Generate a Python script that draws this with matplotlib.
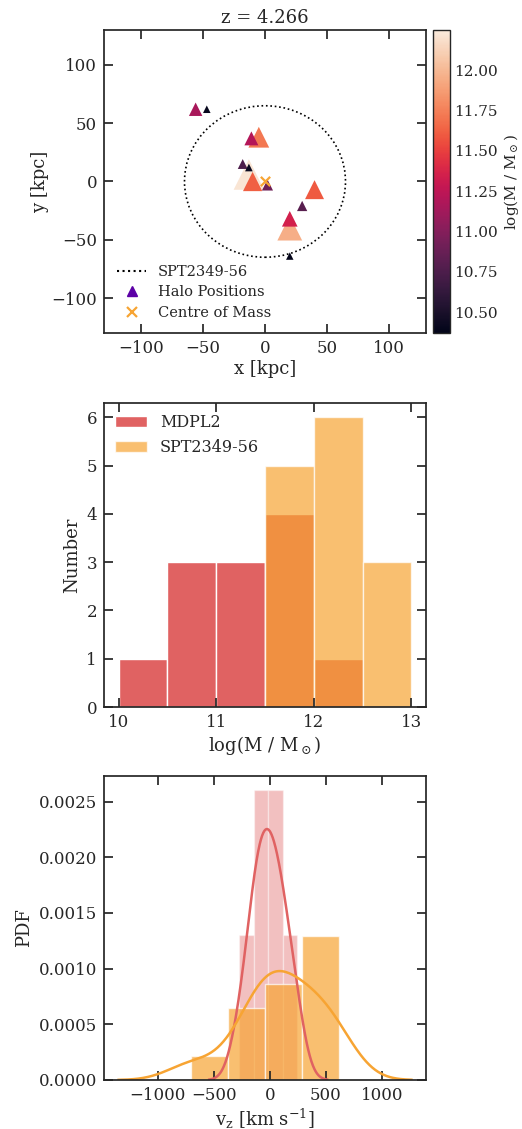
import numpy as np
import matplotlib
matplotlib.use("Agg")
import matplotlib.pyplot as plt
import seaborn as sns
from matplotlib.lines import Line2D
from matplotlib.patches import Circle

# ---------------- data ----------------
title = "z = 4.266"
halo_x = [-13, -5, 20, -10, 40, 20, -11, -56, 2, 30, -18, -13, -47, 20]
halo_y = [6, 38, -40, 0, -7, -32, 37, 62, -3, -21, 15, 12, 62, -64]
halo_logm = [12.22, 11.72, 11.95, 11.62, 11.6, 11.35, 11.2, 11.15, 10.9, 10.8, 10.75, 10.42, 10.40, 10.38]
com_x, com_y = [0.0], [0.0]
circle_radius = 65.0
cbar_min, cbar_max = 10.37, 12.25

mass_bin_edges = [10.0, 10.5, 11.0, 11.5, 12.0, 12.5, 13.0]
mdpl2_counts = [1, 3, 3, 4, 1, 0]
spt_counts = [0, 0, 0, 5, 6, 3]

vz_mdpl2 = [-270, -160, -135, -110, -60, -20, -10, 40, 80, 108, 170, 243]
vz_spt = [-706, -330, -150, -60, -40, -10, 40, 120, 292, 292, 300, 500, 560, 622]

red = "#e06262"
orange = "#f7a433"
legend_purple = "#5c01a6"

# ---------------- style ----------------
plt.rcParams.update({
    "font.family": ["DejaVu Serif"],
    "mathtext.fontset": "dejavuserif",
    "font.size": 12,
    "axes.edgecolor": "0.15",
    "axes.linewidth": 1.25,
    "text.color": "0.15",
    "axes.labelcolor": "0.15",
    "xtick.color": "0.15",
    "ytick.color": "0.15",
    "xtick.labelsize": 12,
    "ytick.labelsize": 12,
    "axes.labelsize": 13,
})

fig = plt.figure(figsize=(5.22, 11.29), dpi=100)
W, H = 522.0, 1129.0

def box(x0, y0, x1, y1):
    return [x0 / W, 1 - y1 / H, (x1 - x0) / W, (y1 - y0) / H]

def style(ax):
    ax.tick_params(which="major", direction="in", length=6.5, width=1.25,
                   top=True, right=True, bottom=True, left=True, pad=5)
    ax.minorticks_off()

# ---------------- top panel ----------------
ax1 = fig.add_axes(box(104, 30, 426, 333))
cax = fig.add_axes(box(433, 30, 450, 333))
sizes = [16.0 * (10 ** (m - 10.0)) ** (2.0 / 3.0) for m in halo_logm]
sc = ax1.scatter(halo_x, halo_y, c=halo_logm, s=sizes, marker="^", cmap="rocket",
                 vmin=cbar_min, vmax=cbar_max, linewidths=0, zorder=3)
circ = Circle((0, 0), circle_radius, fill=False, ls=":", lw=1.2, color="k", zorder=2)
ax1.add_patch(circ)
ax1.scatter(com_x, com_y, marker="x", color=orange, s=45, linewidths=1.6, zorder=4)
ax1.set_xlim(-130, 130)
ax1.set_ylim(-130, 130)
ax1.set_xticks([-100, -50, 0, 50, 100])
ax1.set_yticks([-100, -50, 0, 50, 100])
ax1.set_xlabel("x [kpc]", labelpad=2)
ax1.set_ylabel("y [kpc]", labelpad=2)
ax1.set_title(title, fontsize=13, pad=5)
style(ax1)
handles = [
    Line2D([], [], ls=":", color="k", lw=1.5),
    Line2D([], [], ls="", marker="^", color=legend_purple, markersize=7),
    Line2D([], [], ls="", marker="x", color=orange, markersize=7, mew=1.6),
]
ax1.legend(handles, ["SPT2349-56", "Halo Positions", "Centre of Mass"],
           loc="lower left", frameon=False, fontsize=10.5, handlelength=2.0,
           borderaxespad=0.5, labelspacing=0.45)
cb = fig.colorbar(sc, cax=cax)
cb.set_ticks([10.5, 10.75, 11.0, 11.25, 11.5, 11.75, 12.0])
cb.ax.tick_params(length=0, labelsize=11, pad=3)
cb.outline.set_edgecolor("0.15")
cb.outline.set_linewidth(1.0)
cb.set_label(r"log(M / M$_\odot$)", fontsize=11, labelpad=3)

# ---------------- middle panel ----------------
ax2 = fig.add_axes(box(104, 403, 426, 707))
edges = np.array(mass_bin_edges)
ax2.bar(edges[:-1], mdpl2_counts, width=np.diff(edges), align="edge",
        color=red, edgecolor="white", linewidth=1.0, label="MDPL2")
ax2.bar(edges[:-1], spt_counts, width=np.diff(edges), align="edge",
        color=orange, alpha=0.7, edgecolor="white", linewidth=1.0, label="SPT2349-56")
ax2.set_xticks([10, 11, 12, 13])
ax2.set_yticks([0, 1, 2, 3, 4, 5, 6])
ax2.set_xlabel(r"log(M / M$_\odot$)", labelpad=2)
ax2.set_ylabel("Number", labelpad=4)
style(ax2)
ax2.legend(loc="upper left", frameon=False, fontsize=11.5, handlelength=2.0,
           borderaxespad=0.3)

# ---------------- bottom panel ----------------
ax3 = fig.add_axes(box(104, 776, 426, 1080))

def kde_curve(vals):
    v = np.asarray(vals, float)
    n = v.size
    bw = v.std(ddof=1) * n ** (-1.0 / 5.0)
    grid = np.linspace(v.min() - 3 * bw, v.max() + 3 * bw, 300)
    dens = np.exp(-0.5 * ((grid[:, None] - v[None, :]) / bw) ** 2).sum(1) / (n * bw * np.sqrt(2 * np.pi))
    return grid, dens

for vals, col, a in [(vz_mdpl2, red, 0.4), (vz_spt, orange, 0.7)]:
    h, e = np.histogram(vals, bins=4, density=True)
    ax3.bar(e[:-1], h, width=np.diff(e), align="edge", color=col, alpha=a,
            edgecolor="white", linewidth=1.0)
for vals, col in [(vz_mdpl2, red), (vz_spt, orange)]:
    g, d = kde_curve(vals)
    ax3.plot(g, d, color=col, lw=1.8)
ax3.set_xticks([-1000, -500, 0, 500, 1000])
ax3.set_yticks([0, 0.0005, 0.001, 0.0015, 0.002, 0.0025])
ax3.yaxis.set_major_formatter(matplotlib.ticker.FormatStrFormatter("%.4f"))
ax3.set_xlabel(r"v$_\mathrm{z}$ [km s$^{-1}$]", labelpad=2)
ax3.set_ylabel("PDF", labelpad=4)
style(ax3)

fig.savefig("out.png", dpi=100)
